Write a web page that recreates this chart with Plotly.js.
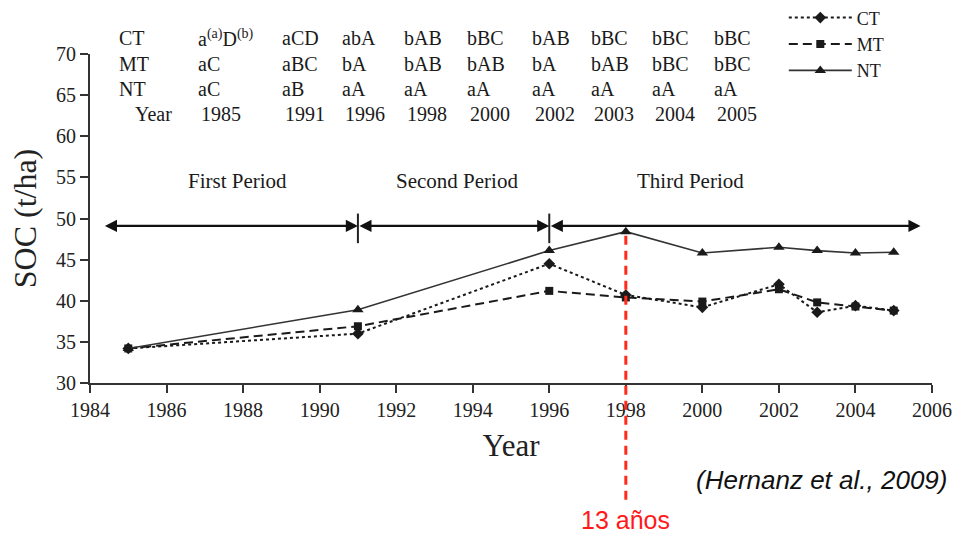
<!DOCTYPE html>
<html>
<head>
<meta charset="utf-8">
<script src="https://cdn.plot.ly/plotly-3.0.1.min.js"></script>
<style>html,body{margin:0;padding:0;background:#fff}#chart{width:961px;height:539px}</style>
</head>
<body>
<div id="chart"></div>
<script>
// ---- data ----
const years = [1985, 1991, 1996, 1998, 2000, 2002, 2003, 2004, 2005];
const socCT = [34.2, 36.0, 44.5, 40.7, 39.2, 42.0, 38.6, 39.4, 38.8];
const socMT = [34.2, 36.9, 41.2, 40.4, 39.9, 41.4, 39.8, 39.3, 38.8];
const socNT = [34.2, 38.9, 46.1, 48.4, 45.8, 46.5, 46.1, 45.8, 45.9];

const tableRowLabels = ["CT", "MT", "NT", "Year"];
const lettersCT = ["a<sup>(a)</sup>D<sup>(b)</sup>", "aCD", "abA", "bAB", "bBC", "bAB", "bBC", "bBC", "bBC"];
const lettersMT = ["aC", "aBC", "bA", "bAB", "bAB", "bA", "bAB", "bBC", "bBC"];
const lettersNT = ["aC", "aB", "aA", "aA", "aA", "aA", "aA", "aA", "aA"];

const periodNames = ["First Period", "Second Period", "Third Period"];
const periodBounds = [1984.35, 1991, 1996, 2005.7];
const periodArrowLevel = 49.1;
const markYear = 1998;
const markLabel = "13 años";
const citation = "(Hernanz et al., 2009)";

// ---- layout helpers ----
const X0 = 1984, X1 = 2006, Y0 = 30, Y1 = 70;
const serif = "Liberation Serif, Times New Roman, serif";
const sans = "Liberation Sans, Arial, sans-serif";
const ink = "#1a1a1a";

const traces = [
  {x: years, y: socCT, name: "CT", mode: "lines+markers",
   line: {color: ink, width: 2, dash: "dot"},
   marker: {symbol: "diamond", size: 9, color: ink}},
  {x: years, y: socMT, name: "MT", mode: "lines+markers",
   line: {color: ink, width: 2, dash: "9px,5px"},
   marker: {symbol: "square", size: 8, color: ink}},
  {x: years, y: socNT, name: "NT", mode: "lines+markers",
   line: {color: "#333", width: 1.6},
   marker: {symbol: "triangle-up", size: 10, color: ink}}
];

const annotations = [];
// table
const rowY = [1.050, 0.971, 0.895, 0.819];
const colPx = [196, 280, 340, 402, 465, 530, 589, 650, 712];
const pl = 90, pw = 842;
const rows = [lettersCT, lettersMT, lettersNT, years.map(String)];
rows.forEach((row, r) => {
  annotations.push({xref: "paper", yref: "paper", x: ((r === 3 ? 133 : 117) - pl) / pw, y: rowY[r],
    xanchor: "left", yanchor: "middle", showarrow: false, text: tableRowLabels[r],
    font: {family: serif, size: 20, color: ink}});
  row.forEach((t, c) => {
    annotations.push({xref: "paper", yref: "paper", x: (colPx[c] + (r === 3 ? 3 : 0) - pl) / pw, y: rowY[r],
      xanchor: "left", yanchor: "middle", showarrow: false, text: t,
      font: {family: serif, size: 20, color: ink}});
  });
});
// period arrows
for (let i = 0; i < 3; i++) {
  annotations.push({xref: "x", yref: "y", axref: "x", ayref: "y",
    x: periodBounds[i + 1], y: periodArrowLevel, ax: periodBounds[i], ay: periodArrowLevel,
    text: "", showarrow: true, arrowhead: 2, startarrowhead: 2, arrowside: "end+start",
    arrowsize: 1.1, startarrowsize: 1.1, arrowwidth: 2.2, arrowcolor: "#111", standoff: 0, startstandoff: 0});
}
const periodLabelX = [1987.85, 1993.6, 1999.7];
periodNames.forEach((n, i) => {
  annotations.push({xref: "x", yref: "y", x: periodLabelX[i], y: 54.6, text: n, showarrow: false,
    xanchor: "center", yanchor: "middle", font: {family: serif, size: 21, color: ink}});
});
// red label and citation
annotations.push({xref: "x", yref: "paper", x: markYear, y: -0.415, text: markLabel, showarrow: false,
  xanchor: "center", yanchor: "middle", font: {family: sans, size: 25, color: "#ff1a1a"}});
annotations.push({xref: "paper", yref: "paper", x: 1.02, y: -0.295, text: "<i>" + citation + "</i>", showarrow: false,
  xanchor: "right", yanchor: "middle", font: {family: sans, size: 26, color: "#111"}});

const shapes = [];
// period separators
[periodBounds[1], periodBounds[2]].forEach(b => {
  shapes.push({type: "line", xref: "x", yref: "y", x0: b, x1: b, y0: 47.0, y1: 50.6,
    line: {color: "#222", width: 2}});
});
// red dashed marker line
const topPaper = (socNT[years.indexOf(markYear)] - Y0) / (Y1 - Y0);
shapes.push({type: "line", xref: "x", yref: "paper", x0: markYear, x1: markYear, y0: -0.355, y1: topPaper,
  line: {color: "#ff2a1a", width: 3, dash: "9px,6px"}});

const layout = {
  width: 961, height: 539,
  margin: {l: 90, r: 29, t: 54, b: 156, autoexpand: false},
  paper_bgcolor: "#fff", plot_bgcolor: "#fff",
  font: {family: serif, color: ink},
  showlegend: true,
  legend: {x: 0.824, y: 1.166, xanchor: "left", yanchor: "top", bgcolor: "rgba(0,0,0,0)",
    font: {family: serif, size: 18, color: ink}, itemwidth: 63, tracegroupgap: 0},
  xaxis: {range: [X0, X1], dtick: 2, tick0: 1984, ticks: "outside", ticklen: 8, tickwidth: 2, tickcolor: "#333",
    showline: true, linecolor: "#333", linewidth: 2, showgrid: false, zeroline: false,
    tickfont: {family: serif, size: 20, color: "#222"},
    title: {text: "Year", font: {family: serif, size: 31, color: "#222"}, standoff: 14}},
  yaxis: {range: [Y0, Y1], dtick: 5, ticks: "outside", ticklen: 8, tickwidth: 2, tickcolor: "#333",
    showline: true, linecolor: "#333", linewidth: 2, showgrid: false, zeroline: false,
    tickfont: {family: serif, size: 20, color: "#222"},
    title: {text: "SOC (t/ha)", font: {family: serif, size: 32, color: "#222"}, standoff: 10}},
  annotations: annotations,
  shapes: shapes
};

Plotly.newPlot("chart", traces, layout, {staticPlot: true, displayModeBar: false});
</script>
</body>
</html>
